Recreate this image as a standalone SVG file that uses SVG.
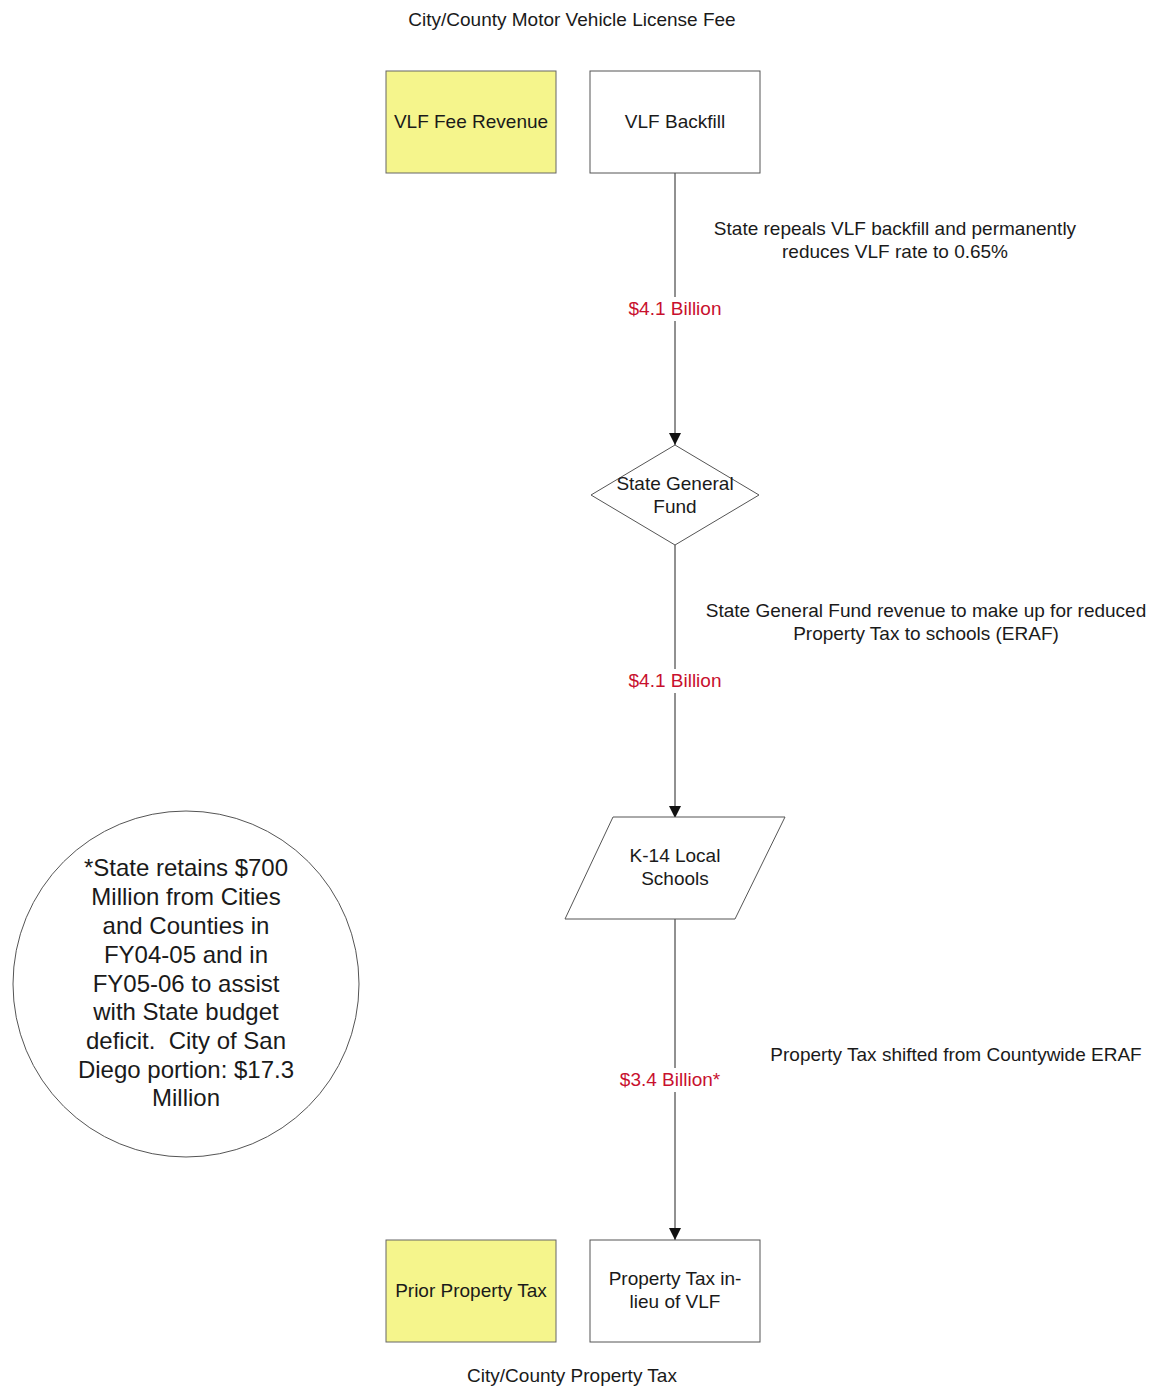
<svg xmlns="http://www.w3.org/2000/svg" width="1156" height="1386" viewBox="0 0 1156 1386">
<style>
text{font-family:"Liberation Sans",Arial,sans-serif;fill:#1a1a1a;font-size:19px;text-anchor:middle}
.shape{fill:#fff;stroke:#555;stroke-width:1}
.yel{fill:#f5f58c;stroke:#666;stroke-width:1}
.edge{stroke:#222;stroke-width:1;fill:none}
.lbl{fill:#c8102e}
.big{font-size:24px}
</style>
<defs>
<marker id="arr" viewBox="0 0 10 10" refX="10" refY="5" markerWidth="12" markerHeight="12" markerUnits="userSpaceOnUse" orient="auto">
<path d="M0,0 L10,5 L0,10 z" fill="#111"/>
</marker>
</defs>
<rect width="1156" height="1386" fill="#fff"/>
<text x="572" y="26">City/County Motor Vehicle License Fee</text>
<text x="572" y="1382">City/County Property Tax</text>
<g id="connectors">
<line class="edge" x1="675" y1="173" x2="675" y2="445" marker-end="url(#arr)"/>
<line class="edge" x1="675" y1="545" x2="675" y2="818" marker-end="url(#arr)"/>
<line class="edge" x1="675" y1="918" x2="675" y2="1240" marker-end="url(#arr)"/>
<rect x="620" y="297" width="110" height="24" fill="#fff"/>
<text class="lbl" x="675" y="315">$4.1 Billion</text>
<rect x="620" y="669" width="110" height="24" fill="#fff"/>
<text class="lbl" x="675" y="687">$4.1 Billion</text>
<rect x="614" y="1068" width="114" height="24" fill="#fff"/>
<text class="lbl" x="670" y="1086">$3.4 Billion*</text>
<text x="895" y="235">State repeals VLF backfill and permanently</text>
<text x="895" y="258">reduces VLF rate to 0.65%</text>
<text x="926" y="617">State General Fund revenue to make up for reduced</text>
<text x="926" y="640">Property Tax to schools (ERAF)</text>
<text x="956" y="1061">Property Tax shifted from Countywide ERAF</text>
</g>
<g id="vlf-fee-revenue">
<rect class="yel" x="386" y="71" width="170" height="102"/>
<text x="471" y="128">VLF Fee Revenue</text>
</g>
<g id="vlf-backfill">
<rect class="shape" x="590" y="71" width="170" height="102"/>
<text x="675" y="128">VLF Backfill</text>
</g>
<g id="state-general-fund">
<polygon class="shape" points="675,445 759,495 675,545 591,495"/>
<text x="675" y="490">State General</text>
<text x="675" y="513">Fund</text>
</g>
<g id="k14-schools">
<polygon class="shape" points="613,817 785,817 735,919 565,919"/>
<text x="675" y="862">K-14 Local</text>
<text x="675" y="885">Schools</text>
</g>
<g id="prior-property-tax">
<rect class="yel" x="386" y="1240" width="170" height="102"/>
<text x="471" y="1297">Prior Property Tax</text>
</g>
<g id="property-tax-in-lieu">
<rect class="shape" x="590" y="1240" width="170" height="102"/>
<text x="675" y="1285">Property Tax in-</text>
<text x="675" y="1308">lieu of VLF</text>
</g>
<g id="note-circle">
<circle class="shape" cx="186" cy="984" r="173" stroke="#888"/>
<text class="big" x="186" y="876">*State retains $700</text>
<text class="big" x="186" y="905">Million from Cities</text>
<text class="big" x="186" y="934">and Counties in</text>
<text class="big" x="186" y="963">FY04-05 and in</text>
<text class="big" x="186" y="992">FY05-06 to assist</text>
<text class="big" x="186" y="1020">with State budget</text>
<text class="big" x="186" y="1049" xml:space="preserve">deficit.  City of San</text>
<text class="big" x="186" y="1078">Diego portion: $17.3</text>
<text class="big" x="186" y="1106">Million</text>
</g>
</svg>
